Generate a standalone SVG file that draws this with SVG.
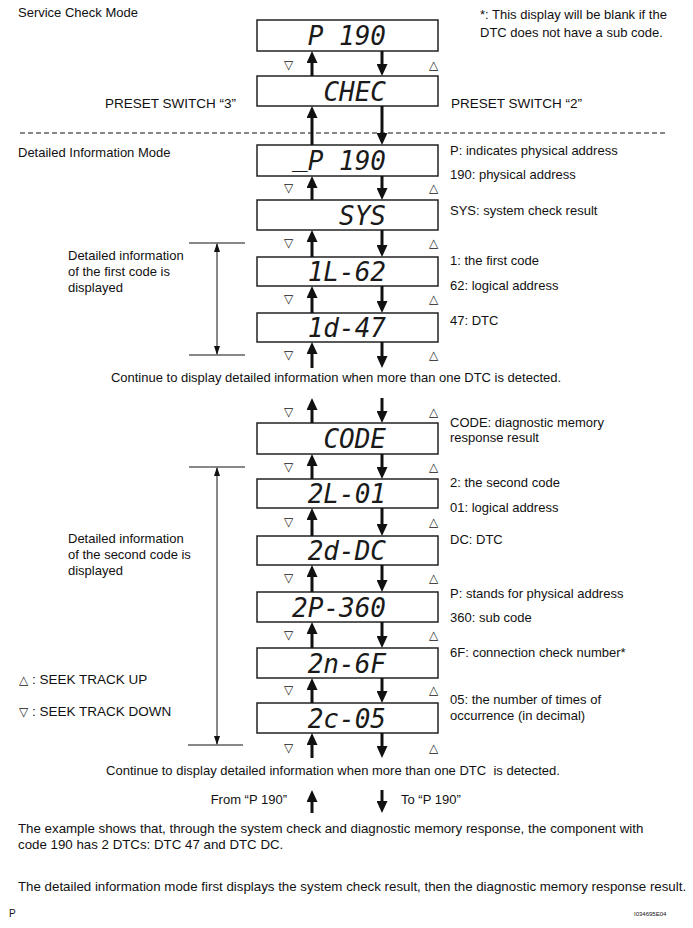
<svg xmlns="http://www.w3.org/2000/svg" width="693" height="928" viewBox="0 0 693 928">
<style>
  .t { font-family: "Liberation Sans", Arial, sans-serif; font-size: 13px; fill: #111; }
  .s { font-family: "DejaVu Sans", "Liberation Sans", sans-serif; font-size: 12px; fill: #111; }
  .box { fill: #fff; stroke: #222; stroke-width: 1.5; }
  .lcd { font-family: "DejaVu Sans Mono", monospace; font-size: 26px; font-style: oblique; fill: #1a1a1a; text-anchor: end; }
  .arr { stroke: #111; stroke-width: 3; fill: none; marker-end: url(#head); }
  .thin { stroke: #111; stroke-width: 1; fill: none; }
  .dbl { stroke: #111; stroke-width: 1; fill: none; marker-start: url(#th); marker-end: url(#th); }
</style>
<defs>
  <marker id="head" viewBox="0 0 12 11" refX="4" refY="5.5" markerWidth="12" markerHeight="11" markerUnits="userSpaceOnUse" orient="auto">
    <path d="M0,0 L12,5.5 L0,11 Z" fill="#111"/>
  </marker>
  <marker id="th" viewBox="0 0 9 6" refX="8" refY="3" markerWidth="9" markerHeight="6" markerUnits="userSpaceOnUse" orient="auto-start-reverse">
    <path d="M0,0 L9,3 L0,6 Z" fill="#111"/>
  </marker>
</defs>
<rect width="693" height="928" fill="#fff"/>

<!-- mode headers / notes -->
<text class="t" x="18" y="17">Service Check Mode</text>
<text class="t" x="480" y="19">*: This display will be blank if the</text>
<text class="t" x="480" y="37">DTC does not have a sub code.</text>
<text class="t" x="105" y="108" style="font-size:13.5px">PRESET SWITCH “3”</text>
<text class="t" x="451" y="108" style="font-size:13.5px">PRESET SWITCH “2”</text>
<line x1="20" y1="133" x2="668" y2="133" stroke="#111" stroke-width="1" stroke-dasharray="5,3"/>
<text class="t" x="18" y="157">Detailed Information Mode</text>

<!-- nodes -->
<g id="n-p190"><rect class="box" x="257" y="20" width="181" height="31"/><text class="lcd" x="386" y="45">P 190</text></g>
<g id="n-chec"><rect class="box" x="257" y="76" width="181" height="30"/><text class="lcd" x="386" y="101">CHEC</text></g>
<g id="n-p190b"><rect class="box" x="257" y="145" width="181" height="31"/><text class="lcd" x="386" y="170"><tspan dy="-4">_</tspan><tspan dy="4">P 190</tspan></text></g>
<g id="n-sys"><rect class="box" x="257" y="200" width="181" height="30"/><text class="lcd" x="386" y="225">SYS</text></g>
<g id="n-1l62"><rect class="box" x="257" y="257" width="181" height="29"/><text class="lcd" x="386" y="281">1L-62</text></g>
<g id="n-1d47"><rect class="box" x="257" y="313" width="181" height="29"/><text class="lcd" x="386" y="337">1d-47</text></g>
<g id="n-code"><rect class="box" x="257" y="423" width="181" height="31"/><text class="lcd" x="386" y="448">CODE</text></g>
<g id="n-2l01"><rect class="box" x="257" y="479" width="181" height="29"/><text class="lcd" x="386" y="503">2L-01</text></g>
<g id="n-2ddc"><rect class="box" x="257" y="536" width="181" height="29"/><text class="lcd" x="386" y="560">2d-DC</text></g>
<g id="n-2p360"><rect class="box" x="257" y="592" width="181" height="30"/><text class="lcd" x="386" y="617">2P-360</text></g>
<g id="n-2n6f"><rect class="box" x="257" y="648" width="181" height="30"/><text class="lcd" x="386" y="673">2n-6F</text></g>
<g id="n-2c05"><rect class="box" x="257" y="703" width="181" height="30"/><text class="lcd" x="386" y="728">2c-05</text></g>

<!-- connectors -->
<g id="connectors">
  <!-- up arrows (x=312) -->
  <line class="arr" x1="312" y1="76" x2="312" y2="59"/>
  <line class="arr" x1="312" y1="145" x2="312" y2="114"/>
  <line class="arr" x1="312" y1="200" x2="312" y2="184"/>
  <line class="arr" x1="312" y1="257" x2="312" y2="238"/>
  <line class="arr" x1="312" y1="313" x2="312" y2="294"/>
  <line class="arr" x1="312" y1="368" x2="312" y2="350"/>
  <line class="arr" x1="312" y1="423" x2="312" y2="406"/>
  <line class="arr" x1="312" y1="479" x2="312" y2="462"/>
  <line class="arr" x1="312" y1="536" x2="312" y2="516"/>
  <line class="arr" x1="312" y1="592" x2="312" y2="573"/>
  <line class="arr" x1="312" y1="648" x2="312" y2="630"/>
  <line class="arr" x1="312" y1="703" x2="312" y2="686"/>
  <line class="arr" x1="312" y1="758" x2="312" y2="741"/>
  <line class="arr" x1="312" y1="813" x2="312" y2="798"/>
  <!-- down arrows (x=382) -->
  <line class="arr" x1="382" y1="51" x2="382" y2="68"/>
  <line class="arr" x1="382" y1="106" x2="382" y2="137"/>
  <line class="arr" x1="382" y1="176" x2="382" y2="192"/>
  <line class="arr" x1="382" y1="230" x2="382" y2="249"/>
  <line class="arr" x1="382" y1="286" x2="382" y2="305"/>
  <line class="arr" x1="382" y1="342" x2="382" y2="360"/>
  <line class="arr" x1="382" y1="398" x2="382" y2="415"/>
  <line class="arr" x1="382" y1="454" x2="382" y2="471"/>
  <line class="arr" x1="382" y1="508" x2="382" y2="528"/>
  <line class="arr" x1="382" y1="565" x2="382" y2="584"/>
  <line class="arr" x1="382" y1="622" x2="382" y2="640"/>
  <line class="arr" x1="382" y1="678" x2="382" y2="695"/>
  <line class="arr" x1="382" y1="733" x2="382" y2="750"/>
  <line class="arr" x1="382" y1="790" x2="382" y2="805"/>
  <!-- brackets -->
  <line class="thin" x1="189" y1="243" x2="245" y2="243"/>
  <line class="thin" x1="189" y1="355" x2="245" y2="355"/>
  <line class="dbl" x1="217" y1="244" x2="217" y2="354"/>
  <line class="thin" x1="189" y1="467" x2="245" y2="467"/>
  <line class="thin" x1="188" y1="745" x2="243" y2="745"/>
  <line class="dbl" x1="217" y1="468" x2="217" y2="744"/>
</g>

<!-- seek triangles -->
<g id="seek-marks" class="s">
  <text x="284" y="69">▽</text><text x="429" y="69">△</text>
  <text x="284" y="192">▽</text><text x="429" y="192">△</text>
  <text x="284" y="247">▽</text><text x="429" y="247">△</text>
  <text x="284" y="303">▽</text><text x="429" y="303">△</text>
  <text x="284" y="359">▽</text><text x="429" y="359">△</text>
  <text x="284" y="416">▽</text><text x="429" y="416">△</text>
  <text x="284" y="471">▽</text><text x="429" y="471">△</text>
  <text x="284" y="526">▽</text><text x="429" y="526">△</text>
  <text x="284" y="582">▽</text><text x="429" y="582">△</text>
  <text x="284" y="639">▽</text><text x="429" y="639">△</text>
  <text x="284" y="694">▽</text><text x="429" y="694">△</text>
  <text x="284" y="752">▽</text><text x="429" y="752">△</text>
</g>

<!-- annotations right -->
<text class="t" x="450" y="155">P: indicates physical address</text>
<text class="t" x="450" y="179">190: physical address</text>
<text class="t" x="450" y="215">SYS: system check result</text>
<text class="t" x="450" y="265">1: the first code</text>
<text class="t" x="450" y="290">62: logical address</text>
<text class="t" x="450" y="325">47: DTC</text>
<text class="t" x="450" y="427">CODE: diagnostic memory</text>
<text class="t" x="450" y="442">response result</text>
<text class="t" x="450" y="487">2: the second code</text>
<text class="t" x="450" y="512">01: logical address</text>
<text class="t" x="450" y="544">DC: DTC</text>
<text class="t" x="450" y="598">P: stands for physical address</text>
<text class="t" x="450" y="622">360: sub code</text>
<text class="t" x="450" y="657">6F: connection check number*</text>
<text class="t" x="450" y="704">05: the number of times of</text>
<text class="t" x="450" y="720">occurrence (in decimal)</text>

<!-- annotations left -->
<text class="t" x="68" y="260">Detailed information</text>
<text class="t" x="68" y="276">of the first code is</text>
<text class="t" x="68" y="292">displayed</text>
<text class="t" x="68" y="543">Detailed information</text>
<text class="t" x="68" y="559">of the second code is</text>
<text class="t" x="68" y="575">displayed</text>
<text class="t" x="19" y="684" style="font-size:13.5px"><tspan class="s">△</tspan> : SEEK TRACK UP</text>
<text class="t" x="19" y="716" style="font-size:13.5px"><tspan class="s">▽</tspan> : SEEK TRACK DOWN</text>

<!-- bottom texts -->
<text class="t" x="336" y="382" text-anchor="middle">Continue to display detailed information when more than one DTC is detected.</text>
<text class="t" x="333" y="775" text-anchor="middle" xml:space="preserve">Continue to display detailed information when more than one DTC  is detected.</text>
<text class="t" x="287" y="804" text-anchor="end">From “P 190”</text>
<text class="t" x="401" y="804">To “P 190”</text>
<text class="t" x="18" y="833" style="font-size:13.3px">The example shows that, through the system check and diagnostic memory response, the component with</text>
<text class="t" x="18" y="849" style="font-size:13.3px">code 190 has 2 DTCs: DTC 47 and DTC DC.</text>
<text class="t" x="18" y="891" style="font-size:13.3px">The detailed information mode first displays the system check result, then the diagnostic memory response result.</text>
<text class="t" x="9" y="917" style="font-size:10px">P</text>
<text class="t" x="634" y="916" style="font-size:6px">I034695E04</text>
</svg>
